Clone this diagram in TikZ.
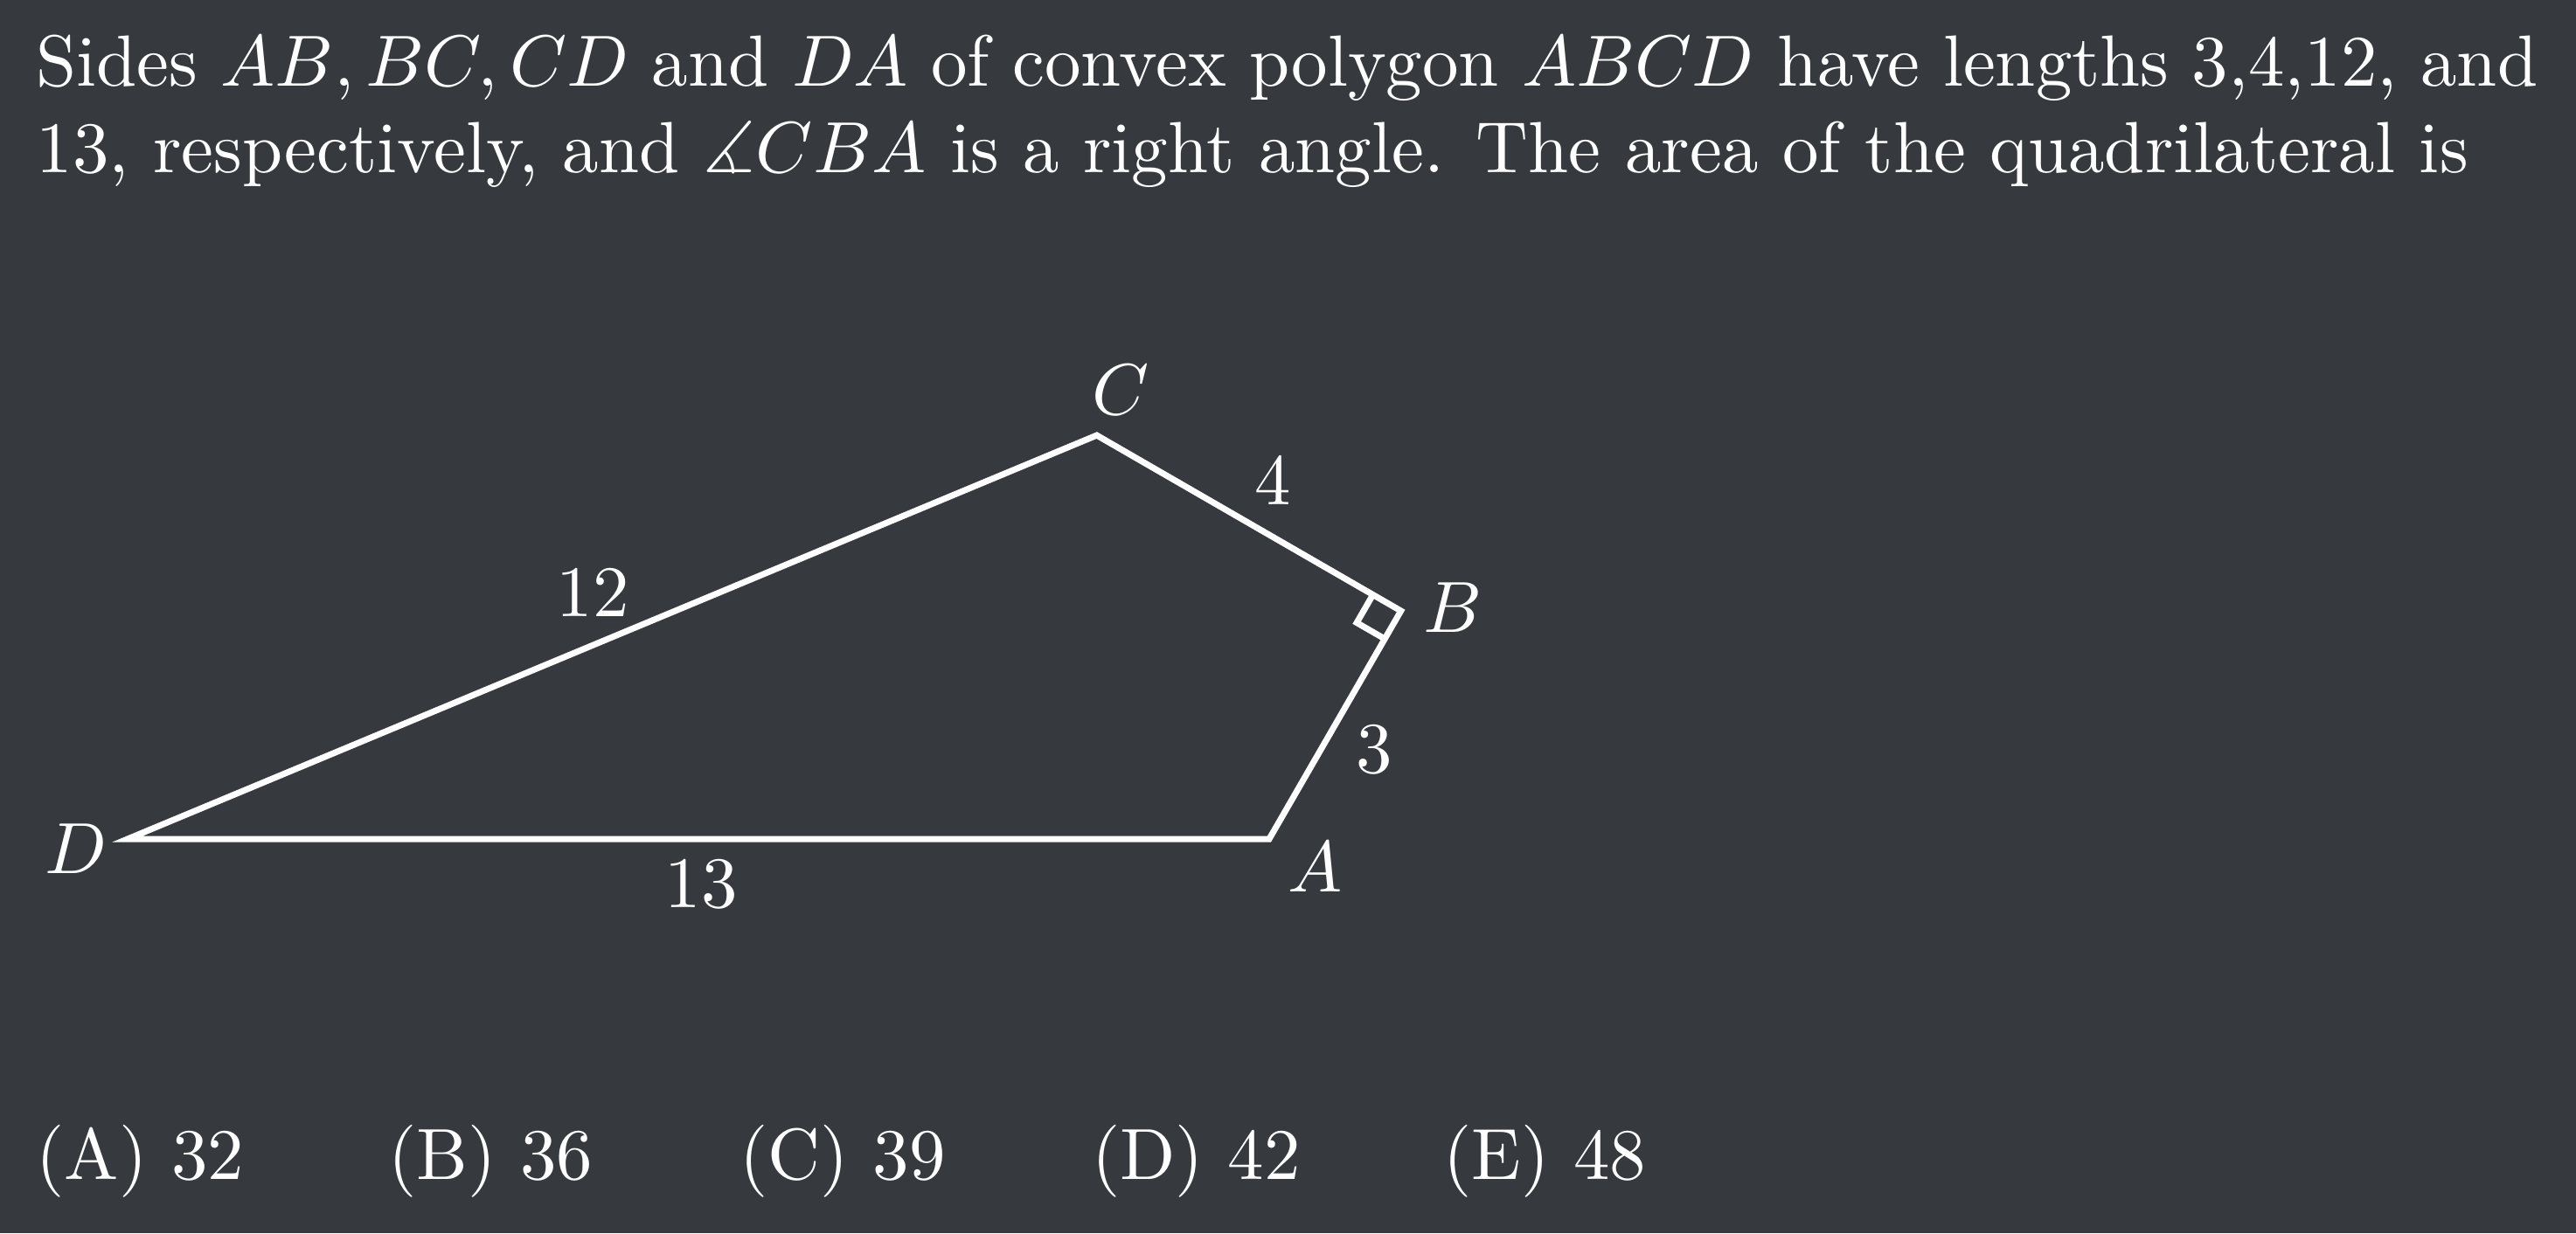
\documentclass[tikz,border=0pt]{standalone}
\usepackage{amsmath, amssymb}
\usepackage{tikz}
\usetikzlibrary{angles, quotes, positioning}
\usetikzlibrary{calc}
\definecolor{bgdark}{RGB}{54,57,62}
\tikzset{txt/.style={text=white, inner sep=0pt, scale=2.36},
	side/.style={draw=white, line width=2pt},
	lbl/.style={txt}}

\begin{document}
\begin{tikzpicture}[]
		\fill[bgdark] (0,0) rectangle (29.47,-14.11);
		\useasboundingbox (0,0) rectangle (29.47,-14.11);
		% question
		\node[txt, anchor=base west] (q1) at (0.40,-0.98) {\makebox[345pt][s]{Sides $AB, BC, CD$ and $DA$ of convex polygon $ABCD$ have lengths 3,4,12, and}};
		\node[txt, anchor=base west] (q2) at (0.40,-1.97) {13, respectively, and $\measuredangle CBA$ is a right angle. The area of the quadrilateral is};
		% quadrilateral
		\coordinate (D) at (1.46,-9.60);
		\coordinate (A) at ($(D)+(13.06,0)$);
		\coordinate (B) at ($(A)+(60:3.014)$);
		\coordinate (C) at ($(B)+(150:4.018)$);
		\draw[side] (D) -- (A) -- (B) -- (C) -- cycle;
		\pic[side, angle radius=0.37cm] {right angle = A--B--C};
		\node[lbl] (lD) at ($(D)+(-0.59,-0.11)$) {$D$};
		\node[lbl] (lA) at ($(A)+(0.53,-0.32)$) {$A$};
		\node[lbl] (lB) at ($(B)+(0.59,0.04)$) {$B$};
		\node[lbl] (lC) at ($(C)+(0.27,0.52)$) {$C$};
		\node[lbl] (lDA) at ($(D)!.5!(A)+(0.03,-0.52)$) {13};
		\node[lbl] (lAB) at ($(A)!.5!(B)+(0.45,-0.285)$) {3};
		\node[lbl] (lBC) at ($(B)!.5!(C)+(0.28,0.49)$) {4};
		\node[lbl] (lCD) at ($(C)!.5!(D)+(-0.22,0.51)$) {12};
		% choices
		\foreach \l/\v [count=\i from 0] in {A/32,B/36,C/39,D/42,E/48}{
		  \node[txt, anchor=base west] (ans\l) at (0.40+4.025*\i,-13.49) {(\l)~\v};
		}
	\end{tikzpicture}
\end{document}
